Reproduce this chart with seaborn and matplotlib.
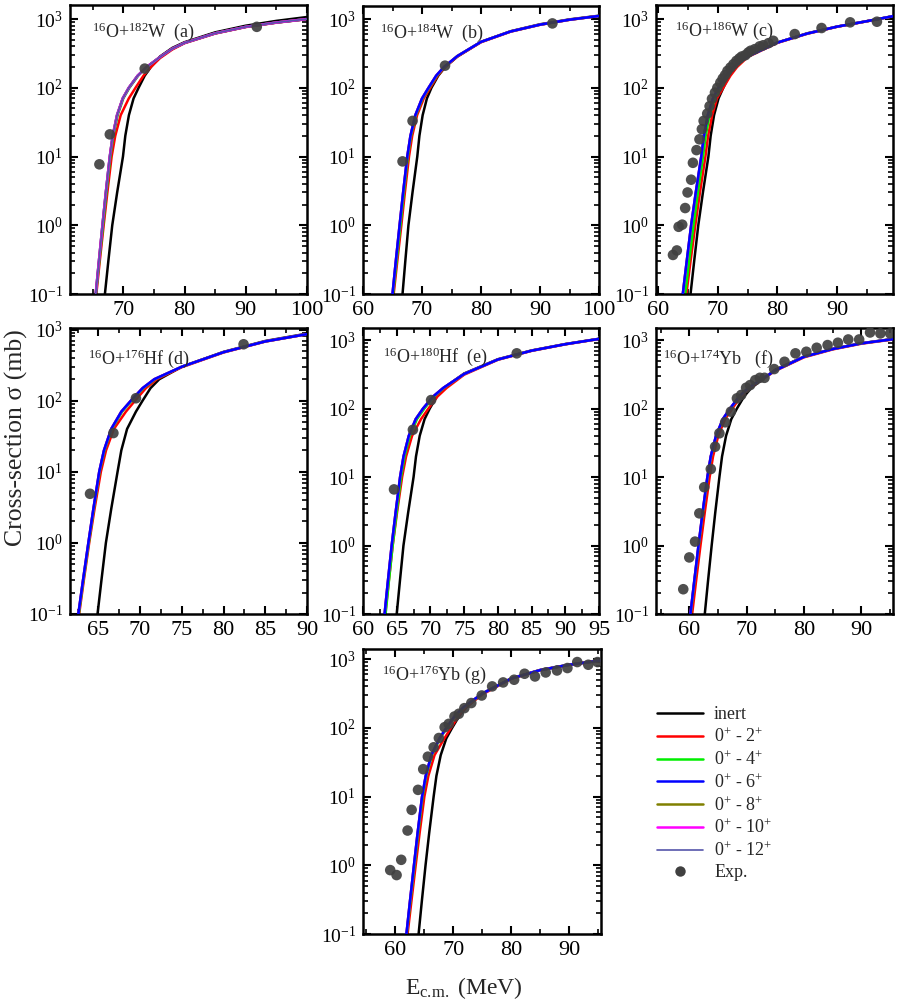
import matplotlib
matplotlib.use("Agg")
import matplotlib.pyplot as plt
import seaborn as sns
from matplotlib.lines import Line2D
from matplotlib.ticker import LogLocator, MultipleLocator, NullFormatter, LogFormatterSciNotation

# ---------------- data ----------------
# Low-energy part of every calculated curve: energy at which each curve reaches these cross-sections
S_LOW = [0.05, 0.1, 0.3, 1.0, 3.0, 10.0, 20.0, 40.0, 70.0, 100.0, 150.0, 200.0]

# (a) 16O+182W
A_E_HIGH = [76.0, 78.0, 80.0, 85.0, 90.0, 95.0, 100.0]
A_INERT_E = [66.64, 67.0, 67.56, 68.2, 69.0, 69.95, 70.33, 70.92, 71.68, 72.5, 73.5, 74.5]
A_INERT_S = [285, 380, 460, 640, 800, 940, 1070]
A_2_E = [65.24, 65.6, 66.16, 66.8, 67.4, 68.1, 68.69, 69.58, 70.9, 72.0, 73.3, 74.5]
A_2_S = [270, 360, 445, 615, 765, 885, 995]
A_4_E = [65.22, 65.55, 66.08, 66.7, 67.25, 67.9, 68.37, 69.08, 70.0, 71.0, 72.43, 73.85]
A_6_E = [65.17, 65.5, 66.02, 66.6, 67.15, 67.8, 68.27, 68.98, 69.91, 70.9, 72.35, 73.8]
A_6_S = [280, 370, 450, 620, 770, 890, 1000]
A_E_EXP = [66.1, 67.8, 73.5, 91.8]
A_S_EXP = [7.7, 21.0, 190.0, 770.0]

# (b) 16O+184W
B_E_HIGH = [76.0, 80.0, 85.0, 90.0, 95.0, 100.0]
B_INERT_E = [66.4, 66.7, 67.17, 67.7, 68.39, 69.2, 69.56, 70.11, 70.83, 71.6, 72.75, 73.9]
B_INERT_S = [285, 466, 665, 840, 990, 1120]
B_2_E = [64.81, 65.2, 65.81, 66.5, 67.1, 67.8, 68.34, 69.17, 70.3, 71.4, 72.65, 73.9]
B_2_S = [285, 460, 655, 825, 975, 1105]
B_4_E = [64.73, 65.1, 65.69, 66.35, 66.93, 67.6, 68.14, 68.97, 70.1, 71.2, 72.5, 73.8]
B_6_E = [64.64, 65.0, 65.56, 66.2, 66.8, 67.5, 68.04, 68.87, 70.0, 71.1, 72.4, 73.7]
B_6_S = [290, 466, 660, 830, 980, 1110]
B_E_EXP = [66.7, 68.4, 73.9, 92.1]
B_S_EXP = [8.5, 33.0, 210.0, 865.0]

# (c) 16O+186W
C_E_HIGH = [75.0, 80.0, 85.0, 90.0, 95.0, 99.4]
C_INERT_E = [65.01, 65.4, 66.01, 66.7, 67.48, 68.4, 68.78, 69.35, 70.1, 70.9, 71.85, 72.9]
C_INERT_S = [290, 455, 620, 775, 930, 1100]
C_2_E = [64.25, 64.7, 65.4, 66.2, 66.98, 67.9, 68.35, 69.04, 69.85, 70.9, 72.1, 73.2]
C_2_S = [280, 450, 610, 770, 925, 1095]
C_4_E = [64.08, 64.5, 65.16, 65.9, 66.64, 67.5, 67.94, 68.6, 69.47, 70.4, 71.6, 72.8]
C_6_E = [63.68, 64.1, 64.76, 65.5, 66.28, 67.2, 67.64, 68.3, 69.17, 70.1, 71.35, 72.6]
C_6_S = [285, 455, 615, 775, 930, 1100]
C_E_EXP = [62.45, 63.1, 63.4, 64.0, 64.5, 64.9, 65.5, 65.8, 66.4, 66.9, 67.3, 67.6, 68.2,
           68.6, 69.0, 69.5, 69.9, 70.4, 70.8, 71.2, 71.6, 72.1, 72.6, 73.1, 73.6, 74.0,
           74.6, 75.1, 75.5, 76.2, 77.0, 77.6, 78.5, 79.3, 82.9, 87.4, 92.2, 96.7]
C_S_EXP = [0.37, 0.43, 0.95, 1.02, 1.78, 3.0, 4.6, 8.1, 12.4, 17.8, 25.0, 33.0, 42.0,
           54.0, 69.0, 85.0, 100.0, 119.0, 136.0, 153.0, 176.0, 197.0, 220.0, 246.0, 267.0, 285.0,
           298.0, 326.0, 346.0, 365.0, 400.0, 415.0, 446.0, 482.0, 604.0, 740.0, 895.0, 914.0]

# (d) 16O+176Hf
D_E_HIGH = [75.0, 80.0, 85.0, 90.0]
D_INERT_E = [64.6, 64.9, 65.37, 65.9, 66.54, 67.3, 67.75, 68.44, 69.5, 70.3, 71.25, 72.3]
D_INERT_S = [300, 485, 690, 875]
D_2_E = [62.34, 62.7, 63.26, 63.9, 64.54, 65.3, 65.92, 66.86, 68.3, 69.4, 70.7, 72.0]
D_2_S = [295, 475, 676, 858]
D_4_E = [62.29, 62.65, 63.21, 63.85, 64.45, 65.15, 65.73, 66.61, 67.85, 69.0, 70.4, 71.8]
D_6_E = [62.24, 62.6, 63.16, 63.8, 64.4, 65.1, 65.67, 66.54, 67.75, 68.9, 70.3, 71.7]
D_6_S = [300, 480, 680, 860]
D_E_EXP = [64.0, 66.8, 69.5, 82.4]
D_S_EXP = [4.9, 35.0, 108.0, 620.0]

# (e) 16O+180Hf
E_E_HIGH = [75.0, 80.0, 85.0, 90.0, 95.0]
E_INERT_E = [64.7, 65.0, 65.47, 66.0, 66.69, 67.5, 67.86, 68.41, 69.13, 69.9, 70.95, 72.0]
E_INERT_S = [325, 525, 705, 875, 1045]
E_2_E = [62.97, 63.3, 63.82, 64.4, 65.04, 65.8, 66.39, 67.28, 68.6, 69.7, 71.05, 72.4]
E_2_S = [312, 515, 695, 865, 1035]
E_4_E = [63.04, 63.35, 63.84, 64.4, 64.98, 65.65, 66.17, 66.96, 68.0, 69.1, 70.55, 72.0]
E_6_E = [62.89, 63.2, 63.69, 64.25, 64.83, 65.5, 66.01, 66.79, 67.81, 68.9, 70.4, 71.9]
E_6_S = [320, 520, 700, 870, 1040]
E_E_EXP = [64.6, 67.4, 70.1, 82.8]
E_S_EXP = [6.6, 49.0, 133.0, 640.0]

# (f) 16O+174Yb
F_E_HIGH = [75.0, 80.0, 85.0, 90.0, 95.5]
F_INERT_E = [62.34, 62.7, 63.26, 63.9, 64.52, 65.25, 65.71, 66.41, 67.32, 68.3, 69.55, 70.8]
F_INERT_S = [370, 575, 745, 900, 1040]
F_2_E = [60.07, 60.5, 61.18, 61.95, 62.69, 63.55, 64.14, 65.05, 66.24, 67.5, 69.0, 70.5]
F_2_S = [355, 560, 730, 885, 1020]
F_4_E = [59.83, 60.25, 60.91, 61.65, 62.36, 63.2, 63.79, 64.7, 65.89, 67.15, 68.72, 70.3]
F_6_E = [59.78, 60.2, 60.86, 61.6, 62.31, 63.15, 63.74, 64.65, 65.84, 67.1, 68.7, 70.3]
F_6_S = [360, 570, 740, 895, 1030]
F_E_EXP = [58.95, 60.0, 61.0, 61.75, 62.6, 63.75, 64.5, 65.25, 66.25, 67.25, 68.3, 69.05,
           69.9, 70.6, 71.5, 72.3, 73.1, 74.8, 76.6, 78.5, 80.4, 82.2, 84.1, 85.9, 87.7,
           89.6, 91.5, 93.3, 95.0]
F_S_EXP = [0.23, 0.67, 1.14, 2.95, 7.1, 13.1, 27.7, 43.5, 63.0, 90.0, 141.0, 158.0,
           201.0, 220.0, 260.0, 281.0, 281.0, 377.0, 482.0, 640.0, 675.0, 772.0, 845.0, 914.0, 1020.0,
           1020.0, 1290.0, 1250.0, 1250.0]

# (g) 16O+176Yb
G_E_HIGH = [75.0, 80.0, 85.0, 90.0, 95.5]
G_INERT_E = [63.64, 64.0, 64.56, 65.2, 65.84, 66.6, 67.08, 67.82, 68.78, 69.8, 71.05, 72.3]
G_INERT_S = [315, 525, 695, 830, 965]
G_2_E = [61.68, 62.1, 62.76, 63.5, 64.19, 65.0, 65.69, 66.75, 68.45, 69.6, 70.95, 72.2]
G_2_S = [305, 515, 685, 820, 950]
G_4_E = [61.55, 61.95, 62.58, 63.3, 63.94, 64.7, 65.33, 66.3, 67.7, 68.9, 70.4, 71.9]
G_6_E = [61.51, 61.9, 62.51, 63.2, 63.84, 64.6, 65.23, 66.2, 67.6, 68.8, 70.3, 71.8]
G_6_S = [315, 520, 690, 825, 955]
G_E_EXP = [59.1, 60.2, 61.0, 62.1, 62.8, 63.9, 64.8, 65.6, 66.6, 67.5, 68.5, 69.2, 70.2,
           70.95, 71.9, 73.1, 74.9, 76.7, 78.6, 80.5, 82.3, 84.1, 85.95, 87.9, 89.7, 91.4,
           93.3, 94.9]
G_S_EXP = [0.85, 0.72, 1.2, 3.2, 6.4, 12.5, 25.0, 38.0, 52.0, 71.0, 102.0, 114.0, 146.0,
           160.0, 193.0, 229.0, 295.0, 400.0, 457.0, 500.0, 611.0, 558.0, 638.0, 682.0, 740.0, 904.0,
           826.0, 904.0]

LABELS = ["inert", r"0$^{+}$ - 2$^{+}$", r"0$^{+}$ - 4$^{+}$", r"0$^{+}$ - 6$^{+}$",
          r"0$^{+}$ - 8$^{+}$", r"0$^{+}$ - 10$^{+}$", r"0$^{+}$ - 12$^{+}$", "Exp."]
COLORS = ["#000000", "#ff0000", "#00ee00", "#0000ff", "#808000", "#ff00ff", "#5555aa"]
WIDTHS = [1.8, 1.8, 1.8, 1.8, 1.8, 1.8, 1.2]
EXP_COLOR = "#404040"

# ---------------- style ----------------
sns.set_style("ticks")
plt.rcParams["font.family"] = ["Liberation Serif", "DejaVu Serif"]
plt.rcParams["mathtext.fontset"] = "custom"
plt.rcParams["mathtext.rm"] = "Liberation Serif"
plt.rcParams["mathtext.it"] = "Liberation Serif:italic"
plt.rcParams["mathtext.bf"] = "Liberation Serif:bold"
plt.rcParams["axes.unicode_minus"] = True

W, H = 899, 1008
fig = plt.figure(figsize=(W / 100, H / 100), dpi=100)


def rect(x0, x1, y0, y1):
    return [x0 / W, 1 - y1 / H, (x1 - x0) / W, (y1 - y0) / H]


def curve(e_low, e_high, s_high):
    return list(e_low) + list(e_high), list(S_LOW) + list(s_high)


ORDER_A = [0, 1, 2, 3, 4, 5, 6]       # (a): 10+/12+ drawn over 6+
ORDER = [0, 1, 2, 4, 5, 6, 3]         # others: 6+ on top

panels = [
    dict(r=rect(70, 307, 5, 294), xl=(61.3, 100), yl=(0.1, 1600), xmaj=10, xmin=5,
         txt=r"$^{16}$O+$^{182}$W  (a)", tp=(0.093, 0.907),
         cur=[curve(A_INERT_E, A_E_HIGH, A_INERT_S), curve(A_2_E, A_E_HIGH, A_2_S),
              curve(A_4_E, A_E_HIGH, A_6_S), curve(A_6_E, A_E_HIGH, A_6_S)],
         exp=(A_E_EXP, A_S_EXP), order=ORDER_A),
    dict(r=rect(363, 599, 6, 294), xl=(60, 100), yl=(0.1, 1550), xmaj=10, xmin=5,
         txt=r"$^{16}$O+$^{184}$W  (b)", tp=(0.072, 0.907),
         cur=[curve(B_INERT_E, B_E_HIGH, B_INERT_S), curve(B_2_E, B_E_HIGH, B_2_S),
              curve(B_4_E, B_E_HIGH, B_6_S), curve(B_6_E, B_E_HIGH, B_6_S)],
         exp=(B_E_EXP, B_S_EXP), order=ORDER),
    dict(r=rect(656, 893, 5, 294), xl=(59.6, 99.4), yl=(0.1, 1600), xmaj=10, xmin=5,
         txt=r"$^{16}$O+$^{186}$W (c)", tp=(0.08, 0.911),
         cur=[curve(C_INERT_E, C_E_HIGH, C_INERT_S), curve(C_2_E, C_E_HIGH, C_2_S),
              curve(C_4_E, C_E_HIGH, C_6_S), curve(C_6_E, C_E_HIGH, C_6_S)],
         exp=(C_E_EXP, C_S_EXP), order=ORDER),
    dict(r=rect(70, 307, 328, 614), xl=(61.6, 90), yl=(0.1, 1050), xmaj=5, xmin=2.5,
         txt=r"$^{16}$O+$^{176}$Hf (d)", tp=(0.077, 0.894),
         cur=[curve(D_INERT_E, D_E_HIGH, D_INERT_S), curve(D_2_E, D_E_HIGH, D_2_S),
              curve(D_4_E, D_E_HIGH, D_6_S), curve(D_6_E, D_E_HIGH, D_6_S)],
         exp=(D_E_EXP, D_S_EXP), order=ORDER),
    dict(r=rect(363, 599, 328, 614), xl=(60, 95), yl=(0.1, 1500), xmaj=5, xmin=2.5,
         txt=r"$^{16}$O+$^{180}$Hf  (e)", tp=(0.086, 0.90),
         cur=[curve(E_INERT_E, E_E_HIGH, E_INERT_S), curve(E_2_E, E_E_HIGH, E_2_S),
              curve(E_4_E, E_E_HIGH, E_6_S), curve(E_6_E, E_E_HIGH, E_6_S)],
         exp=(E_E_EXP, E_S_EXP), order=ORDER),
    dict(r=rect(656, 893, 328, 614), xl=(54.2, 95.5), yl=(0.1, 1500), xmaj=10, xmin=5,
         txt=r"$^{16}$O+$^{174}$Yb   (f)", tp=(0.031, 0.894),
         cur=[curve(F_INERT_E, F_E_HIGH, F_INERT_S), curve(F_2_E, F_E_HIGH, F_2_S),
              curve(F_4_E, F_E_HIGH, F_6_S), curve(F_6_E, F_E_HIGH, F_6_S)],
         exp=(F_E_EXP, F_S_EXP), order=ORDER),
    dict(r=rect(363, 601, 649, 934), xl=(54.4, 95.5), yl=(0.1, 1400), xmaj=10, xmin=5,
         txt=r"$^{16}$O+$^{176}$Yb (g)", tp=(0.079, 0.911),
         cur=[curve(G_INERT_E, G_E_HIGH, G_INERT_S), curve(G_2_E, G_E_HIGH, G_2_S),
              curve(G_4_E, G_E_HIGH, G_6_S), curve(G_6_E, G_E_HIGH, G_6_S)],
         exp=(G_E_EXP, G_S_EXP), order=ORDER),
]

for p in panels:
    ax = fig.add_axes(p["r"])
    ax.set_yscale("log")
    # curves 0..3: inert, 2+, 4+, 6+; the 8+, 10+, 12+ results coincide with 6+
    series = p["cur"] + [p["cur"][3]] * 3
    for z, k in enumerate(p["order"]):
        xs, ys = series[k]
        sns.lineplot(x=xs, y=ys, ax=ax, color=COLORS[k], lw=WIDTHS[k],
                     estimator=None, sort=False, legend=False, zorder=2 + z * 0.1)
    sns.scatterplot(x=p["exp"][0], y=p["exp"][1], ax=ax, color=EXP_COLOR, s=58,
                    edgecolor="none", alpha=0.92, zorder=5, legend=False)
    ax.set_xlim(*p["xl"])
    ax.set_ylim(*p["yl"])
    ax.xaxis.set_major_locator(MultipleLocator(p["xmaj"]))
    ax.xaxis.set_minor_locator(MultipleLocator(p["xmin"]))
    ax.yaxis.set_major_locator(LogLocator(base=10, numticks=10))
    ax.yaxis.set_minor_locator(LogLocator(base=10, subs=range(2, 10), numticks=20))
    ax.yaxis.set_major_formatter(LogFormatterSciNotation())
    ax.yaxis.set_minor_formatter(NullFormatter())
    ax.tick_params(which="both", direction="in", top=True, right=True, colors="black")
    ax.tick_params(axis="x", which="major", labelsize=16, pad=5)
    ax.tick_params(axis="y", which="major", labelsize=14, pad=5)
    ax.tick_params(which="major", length=6, width=1.5)
    ax.tick_params(which="minor", length=3.5, width=1.2)
    for s in ax.spines.values():
        s.set_linewidth(1.8)
        s.set_color("black")
    ax.set_xlabel("")
    ax.set_ylabel("")
    ax.text(p["tp"][0], p["tp"][1], p["txt"], transform=ax.transAxes,
            fontsize=13, ha="left", va="center")

fig.text(16 / W, 1 - 438 / H, "Cross-section σ (mb)", rotation=90, fontsize=18.5,
         ha="center", va="center")
fig.text(464 / W, 1 - 988 / H, r"E$_{\rm c.\!m.}$ (MeV)", fontsize=17,
         ha="center", va="center")

handles = [Line2D([], [], color=COLORS[i], lw=WIDTHS[i]) for i in range(7)]
handles.append(Line2D([], [], color=EXP_COLOR, marker="o", ls="none", markersize=7.5,
                      markeredgecolor="none"))
fig.legend(handles, LABELS, loc="upper left", bbox_to_anchor=(650 / W, 1 - 699 / H),
           frameon=False, fontsize=13, handlelength=2.55, handletextpad=0.6,
           labelspacing=0.23, borderaxespad=0)

fig.savefig("out.png", dpi=100)
